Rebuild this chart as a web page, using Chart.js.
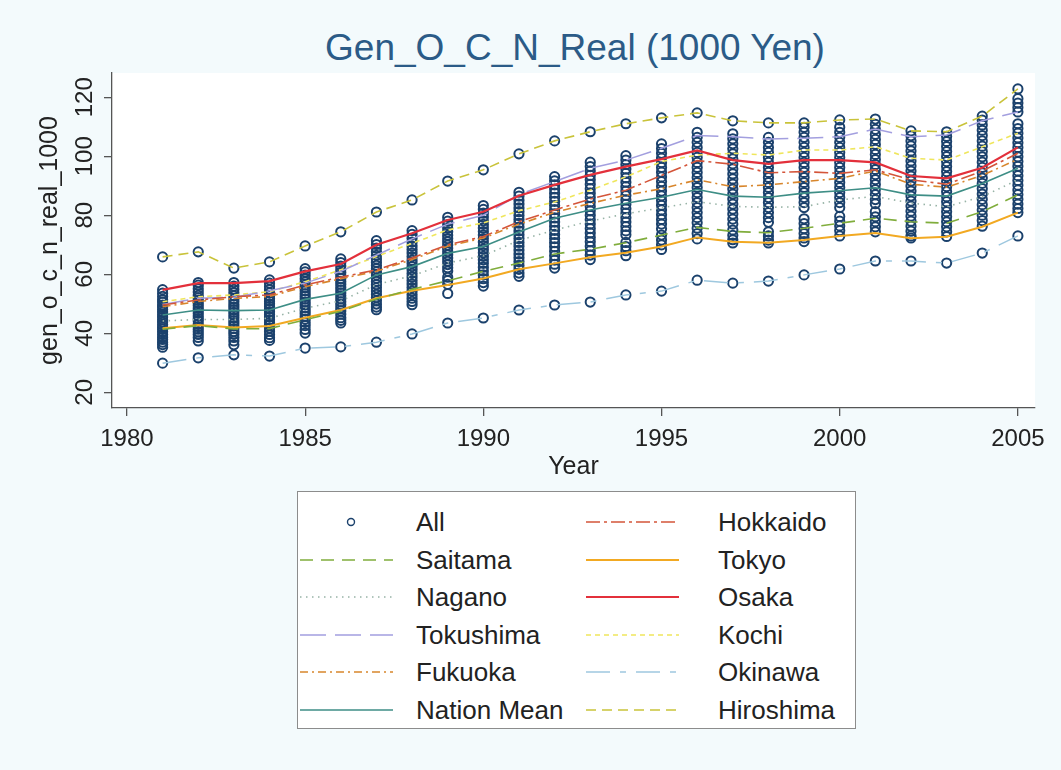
<!DOCTYPE html>
<html>
<head>
<meta charset="utf-8">
<script src="https://cdn.jsdelivr.net/npm/chart.js@4.4.1/dist/chart.umd.min.js"></script>
<style>
  html, body { margin: 0; padding: 0; background: #f3fafc; }
  body { width: 1061px; height: 770px; position: relative; overflow: hidden;
         font-family: "Liberation Sans", Arial, sans-serif; }
  canvas { position: absolute; left: 0; top: 0; }
  #title { position: absolute; left: 0; top: 28px; width: 1150px; text-align: center;
           font-size: 37px; line-height: 40px; color: #2b5b87; }
  #legend { position: absolute; left: 297px; top: 491px; width: 557px; height: 236px;
            background: #fff; border: 1px solid #8c8c8c; }
  .item { position: absolute; height: 30px; }
  .item svg { position: absolute; left: 0; top: 10px; }
  .item span { position: absolute; top: 0; font-size: 26px; line-height: 30px; color: #222; white-space: nowrap; }
</style>
</head>
<body>
<div id="title">Gen_O_C_N_Real (1000 Yen)</div>
<canvas id="chart" width="1061" height="770"></canvas>
<div id="legend"></div>
<script>
// ---- data ----
const years = [1981, 1982, 1983, 1984, 1985, 1986, 1987, 1988, 1989, 1990, 1991, 1992, 1993,
               1994, 1995, 1996, 1997, 1998, 1999, 2000, 2001, 2002, 2003, 2004, 2005];
const xTicks = [1980, 1985, 1990, 1995, 2000, 2005];
const yTicks = [20, 40, 60, 80, 100, 120];

const hokkaido  = [49.6, 51.3, 52.4, 53.0, 56.4, 59.0, 61.5, 65.5, 70.0, 72.8, 77.8, 81.8, 85.5, 88.5, 93.5, 98.5, 97.3, 94.4, 94.8, 94.2, 95.4, 92.0, 90.5, 95.0, 101.0];
const saitama   = [41.4, 42.6, 41.5, 41.6, 44.6, 47.5, 51.6, 54.9, 57.8, 61.0, 63.8, 66.9, 68.5, 70.7, 73.3, 75.9, 74.5, 74.1, 75.6, 77.3, 79.0, 77.8, 77.3, 81.2, 86.9];
const tokyo     = [41.7, 42.8, 42.0, 42.5, 45.3, 47.9, 51.9, 54.4, 56.4, 58.6, 61.7, 63.7, 65.8, 67.3, 69.4, 72.5, 71.0, 70.7, 71.6, 73.0, 74.0, 72.2, 72.7, 76.1, 80.9];
const nagano    = [44.2, 44.7, 44.7, 45.1, 48.5, 51.0, 56.5, 59.5, 63.8, 66.3, 71.5, 75.0, 78.0, 80.5, 82.5, 84.6, 83.0, 82.7, 82.9, 85.2, 86.4, 84.1, 82.9, 86.3, 92.0];
const osaka     = [54.7, 57.0, 57.0, 57.7, 61.0, 63.5, 70.0, 73.9, 78.4, 81.2, 86.6, 90.3, 93.7, 96.5, 99.0, 102.0, 98.7, 97.4, 98.7, 98.7, 97.9, 93.3, 92.5, 96.1, 103.0];
const tokushima = [49.8, 51.9, 52.2, 54.4, 57.0, 61.0, 66.5, 72.0, 77.0, 80.0, 87.0, 91.4, 95.9, 98.7, 102.7, 107.0, 106.6, 105.8, 106.1, 106.6, 109.2, 106.6, 107.2, 112.0, 115.0];
const kochi     = [50.7, 52.4, 53.0, 54.1, 57.5, 61.5, 66.0, 70.5, 75.0, 77.4, 81.5, 84.5, 88.5, 93.0, 98.2, 100.4, 101.0, 100.4, 102.1, 102.1, 103.2, 99.3, 98.7, 103.2, 107.8];
const fukuoka   = [49.0, 50.8, 51.8, 52.5, 55.8, 58.5, 61.0, 65.0, 69.5, 72.3, 77.0, 81.0, 84.0, 86.8, 89.0, 92.0, 89.7, 90.3, 91.4, 92.5, 95.0, 90.5, 89.5, 93.5, 99.0];
const okinawa   = [29.9, 31.7, 32.7, 32.3, 35.0, 35.4, 37.0, 39.8, 43.5, 45.2, 47.9, 49.6, 50.6, 53.0, 54.3, 58.0, 57.0, 57.7, 59.8, 61.8, 64.5, 64.5, 63.8, 67.2, 73.0];
const nationMean = [46.2, 47.9, 47.7, 47.9, 51.5, 53.6, 59.8, 62.6, 67.1, 69.4, 74.3, 79.0, 81.8, 84.1, 86.1, 88.7, 86.5, 86.1, 87.5, 88.3, 89.3, 86.9, 86.5, 90.8, 95.9];
const hiroshima = [65.9, 67.6, 62.1, 64.2, 69.6, 74.4, 81.1, 85.2, 91.6, 95.4, 100.8, 105.2, 108.3, 111.0, 113.0, 114.7, 112.0, 111.3, 111.3, 112.3, 112.6, 108.6, 108.3, 113.6, 122.8];

// every prefecture, one list per year (the "All" circles)
const allByYear = [
  [65.9, 54.8, 53.6, 52.5, 51.4, 50.6, 49.6, 48.9, 48.1, 47.2, 46.3, 45.5, 44.6, 43.8, 42.9, 42.1, 41.4, 40.5, 39.6, 38.7, 37.9, 37.0, 36.2, 35.3, 29.9],
  [67.6, 57.2, 56.3, 55.1, 54.0, 52.9, 52.0, 51.2, 50.3, 49.4, 48.5, 47.7, 46.8, 45.9, 45.0, 44.2, 43.1, 42.3, 41.4, 40.5, 39.6, 38.6, 37.4, 31.7],
  [62.1, 57.2, 56.0, 54.9, 53.8, 52.7, 51.7, 50.8, 49.8, 48.9, 48.0, 47.1, 46.2, 45.3, 44.3, 43.4, 42.5, 41.6, 40.6, 39.7, 38.6, 37.4, 36.1, 32.7],
  [64.2, 58.1, 57.0, 55.9, 54.8, 53.7, 52.7, 51.8, 50.9, 50.0, 49.1, 48.2, 47.3, 46.4, 45.5, 44.6, 43.7, 42.8, 41.8, 40.7, 39.6, 38.5, 37.6, 32.3],
  [69.6, 61.9, 60.8, 59.7, 58.5, 57.4, 56.4, 55.4, 54.4, 53.4, 52.5, 51.6, 50.6, 49.7, 48.7, 47.7, 46.8, 45.8, 44.8, 43.7, 42.6, 41.3, 40.1, 35.0],
  [74.4, 65.2, 64.0, 62.8, 61.7, 60.6, 59.6, 58.6, 57.6, 56.6, 55.6, 54.7, 53.7, 52.7, 51.7, 50.7, 49.7, 48.6, 47.6, 46.5, 45.3, 44.4, 43.5, 35.4],
  [81.1, 71.4, 70.1, 68.9, 67.6, 66.4, 65.2, 64.1, 63.0, 61.9, 60.8, 59.8, 58.7, 57.6, 56.5, 55.4, 54.3, 53.2, 52.1, 51.0, 49.9, 48.9, 48.0, 37.0],
  [85.2, 74.8, 73.5, 72.2, 70.9, 69.6, 68.4, 67.2, 66.0, 64.8, 63.7, 62.6, 61.5, 60.3, 59.1, 57.9, 56.7, 55.5, 54.3, 53.1, 51.9, 50.8, 49.7, 39.8],
  [91.6, 79.3, 78.0, 76.8, 75.6, 74.4, 73.2, 72.1, 71.0, 69.9, 68.8, 67.7, 66.6, 65.5, 64.4, 63.3, 62.2, 61.1, 59.0, 57.9, 56.6, 53.5, 43.5],
  [95.4, 83.3, 82.0, 80.7, 79.4, 78.1, 76.9, 75.7, 74.5, 73.3, 72.1, 70.9, 69.7, 68.5, 67.3, 66.1, 64.9, 63.7, 62.4, 61.1, 59.8, 58.5, 57.2, 56.0, 45.2],
  [100.8, 87.8, 86.5, 85.1, 83.8, 82.5, 81.2, 79.9, 78.6, 77.3, 76.0, 74.7, 73.4, 72.1, 70.8, 69.5, 68.2, 66.9, 65.6, 64.3, 63.0, 61.7, 60.4, 59.3, 47.9],
  [105.2, 93.1, 91.7, 90.3, 88.9, 87.5, 86.1, 84.7, 83.3, 81.9, 80.5, 79.1, 77.7, 76.3, 74.9, 73.5, 72.1, 70.7, 69.3, 67.8, 66.3, 64.8, 63.4, 62.1, 49.6],
  [108.3, 98.0, 96.5, 95.0, 93.5, 92.0, 90.5, 89.0, 87.5, 86.0, 84.5, 83.0, 81.5, 80.0, 78.5, 77.0, 75.5, 74.0, 72.5, 71.0, 69.5, 68.0, 66.5, 65.0, 50.6],
  [111.0, 100.2, 98.7, 97.2, 95.7, 94.2, 92.7, 91.2, 89.7, 88.2, 86.7, 85.2, 83.7, 82.2, 80.7, 79.2, 77.7, 76.2, 74.7, 73.4, 70.8, 69.4, 68.0, 66.3, 53.0],
  [113.0, 104.2, 102.6, 101.0, 99.4, 97.8, 96.2, 94.6, 93.0, 91.4, 89.8, 88.2, 86.6, 85.0, 83.4, 81.8, 80.2, 78.6, 77.0, 75.4, 73.3, 71.6, 70.0, 68.4, 54.3],
  [114.7, 108.1, 106.4, 104.7, 103.0, 101.3, 99.6, 97.9, 96.2, 94.5, 92.8, 91.1, 89.4, 87.7, 86.0, 84.3, 82.6, 80.9, 79.2, 77.5, 75.6, 73.8, 72.0, 58.0],
  [112.0, 107.6, 105.9, 104.2, 102.5, 100.8, 99.1, 97.4, 95.7, 94.0, 92.3, 90.6, 88.9, 87.2, 85.5, 83.8, 82.1, 80.4, 78.7, 77.0, 75.0, 73.2, 71.7, 70.6, 57.0],
  [111.3, 106.4, 104.7, 103.0, 101.3, 99.6, 97.9, 96.2, 94.5, 92.8, 91.1, 89.4, 87.7, 86.0, 84.3, 82.6, 80.9, 79.2, 77.6, 74.4, 73.0, 71.6, 70.6, 57.7],
  [111.3, 109.8, 108.1, 106.4, 104.7, 103.0, 101.3, 99.6, 97.9, 96.2, 94.5, 92.8, 91.1, 89.4, 87.7, 86.0, 84.3, 82.6, 78.8, 77.2, 75.5, 73.8, 72.3, 71.1, 59.8],
  [112.3, 109.8, 108.1, 106.4, 104.7, 103.0, 101.3, 99.6, 97.9, 96.2, 94.5, 92.8, 91.1, 89.4, 87.7, 86.0, 84.3, 82.6, 79.6, 78.0, 76.4, 74.8, 73.0, 61.8],
  [112.6, 110.8, 109.1, 107.4, 105.7, 104.0, 102.3, 100.6, 98.9, 97.2, 95.5, 93.8, 92.1, 90.4, 88.7, 87.0, 85.3, 83.9, 81.2, 79.5, 77.8, 76.1, 74.4, 64.5],
  [108.6, 106.9, 105.2, 103.5, 101.8, 100.1, 98.4, 96.7, 95.0, 93.3, 91.6, 89.9, 88.2, 86.5, 84.8, 83.1, 81.4, 79.7, 78.0, 76.3, 74.6, 73.0, 72.3, 64.5],
  [108.3, 106.7, 105.0, 103.3, 101.6, 99.9, 98.2, 96.5, 94.8, 93.1, 91.4, 89.7, 88.0, 86.3, 84.6, 82.9, 81.2, 79.5, 77.8, 76.1, 74.4, 72.8, 63.8],
  [113.6, 112.2, 110.6, 108.8, 107.0, 105.2, 103.4, 101.6, 99.8, 98.0, 96.2, 94.4, 92.6, 90.8, 89.0, 87.2, 85.4, 83.6, 81.8, 80.0, 78.2, 76.3, 67.2],
  [122.8, 119.5, 118.0, 116.5, 115.0, 111.0, 109.4, 107.8, 106.2, 104.6, 103.0, 101.4, 99.8, 98.2, 96.6, 95.0, 93.4, 91.8, 90.2, 88.6, 87.0, 85.4, 83.8, 82.3, 80.9, 73.0]
];

// ---- styles (legend order, row by row) ----
const FONT = '"Liberation Sans", Arial, sans-serif';
const NAVY = '#1b416c';

const lineSeries = [
  { label: 'Hokkaido',    data: hokkaido,   color: '#d4553a', dash: [14, 4, 3, 4], width: 1.6 },
  { label: 'Saitama',     data: saitama,    color: '#80ad3c', dash: [13, 8],       width: 1.6 },
  { label: 'Tokyo',       data: tokyo,      color: '#f2a922', dash: [],            width: 2 },
  { label: 'Nagano',      data: nagano,     color: '#97b3a6', dash: [1.5, 4.5],    width: 1.6 },
  { label: 'Osaka',       data: osaka,      color: '#e3303b', dash: [],            width: 2.2 },
  { label: 'Tokushima',   data: tokushima,  color: '#a39fdf', dash: [26, 9],       width: 1.5 },
  { label: 'Kochi',       data: kochi,      color: '#efe65c', dash: [5, 4],        width: 1.6 },
  { label: 'Fukuoka',     data: fukuoka,    color: '#d8862c', dash: [8, 4, 2, 4],  width: 1.6 },
  { label: 'Okinawa',     data: okinawa,    color: '#9ec8df', dash: [24, 10, 6, 10], width: 1.5 },
  { label: 'Nation Mean', data: nationMean, color: '#3e8e86', dash: [],            width: 1.6 },
  { label: 'Hiroshima',   data: hiroshima,  color: '#c9c33a', dash: [10, 6],       width: 1.6 }
];

const allPoints = [];
allByYear.forEach((vals, i) => vals.forEach(v => allPoints.push({ x: years[i], y: v })));

const datasets = [{
  label: 'All',
  data: allPoints,
  showLine: false,
  pointStyle: 'circle',
  pointRadius: 4.6,
  pointBorderWidth: 2,
  pointBorderColor: NAVY,
  pointBackgroundColor: 'rgba(255,255,255,0)',
  order: 20
}];
lineSeries.forEach((s, k) => {
  datasets.push({
    label: s.label,
    data: years.map((y, i) => ({ x: y, y: s.data[i] })),
    showLine: true,
    pointRadius: 0,
    borderColor: s.color,
    borderWidth: s.width,
    borderDash: s.dash,
    fill: false,
    tension: 0,
    order: s.label === 'Osaka' ? 0 : 1 + k
  });
});

// white plot region
const plotBg = {
  id: 'plotBg',
  beforeDraw(chart) {
    const { ctx, chartArea: a } = chart;
    ctx.save();
    ctx.fillStyle = '#ffffff';
    ctx.fillRect(a.left, a.top, a.right - a.left, a.bottom - a.top);
    ctx.restore();
  }
};

new Chart(document.getElementById('chart'), {
  type: 'scatter',
  data: { datasets },
  plugins: [plotBg],
  options: {
    responsive: false,
    animation: false,
    devicePixelRatio: 1,
    layout: { padding: { left: 0, top: 73, right: 26, bottom: 288 } },
    plugins: { legend: { display: false }, tooltip: { enabled: false }, title: { display: false } },
    scales: {
      x: {
        type: 'linear',
        min: 1979.58,
        max: 2005.48,
        afterBuildTicks: a => { a.ticks = xTicks.map(v => ({ value: v })); },
        afterFit: a => { a.height = 74; },
        border: { display: true, color: '#555', width: 1.3 },
        grid: { drawOnChartArea: false, drawTicks: true, tickLength: 8, color: '#555', lineWidth: 1.3 },
        ticks: { autoSkip: false, maxRotation: 0, padding: 9, color: '#222',
                 font: { family: FONT, size: 24 }, callback: v => String(v) },
        title: { display: true, text: 'Year', color: '#222', padding: { top: 0, bottom: 0 },
                 font: { family: FONT, size: 25 } }
      },
      y: {
        min: 14.7,
        max: 128.2,
        afterBuildTicks: a => { a.ticks = yTicks.map(v => ({ value: v })); },
        afterFit: a => { a.width = 112; },
        border: { display: true, color: '#555', width: 1.3 },
        grid: { drawOnChartArea: false, drawTicks: true, tickLength: 8, color: '#555', lineWidth: 1.3 },
        ticks: { autoSkip: false, minRotation: 90, maxRotation: 90, crossAlign: 'center', padding: -1,
                 color: '#222', font: { family: FONT, size: 24 } },
        title: { display: true, text: 'gen_o_c_n_real_1000', color: '#222', padding: { top: 35, bottom: 0 },
                 font: { family: FONT, size: 25 } }
      }
    }
  }
});

// ---- legend box, two columns ----
const legend = document.getElementById('legend');
const legendItems = [{ label: 'All', marker: true }].concat(lineSeries);
legendItems.forEach((s, i) => {
  const row = Math.floor(i / 2), col = i % 2;
  const div = document.createElement('div');
  div.className = 'item';
  div.style.top = (15 + row * 37.5) + 'px';
  div.style.left = (col === 0 ? 2 : 288) + 'px';
  const sample = s.marker
    ? `<circle cx="51" cy="5" r="3.5" fill="none" stroke="${NAVY}" stroke-width="1.4"/>`
    : `<line x1="0" y1="5" x2="93" y2="5" stroke="${s.color}" stroke-width="${s.width}"
         stroke-dasharray="${s.dash.length ? s.dash.join(' ') : 'none'}"/>`;
  div.innerHTML = `<svg width="93" height="10">${sample}</svg><span style="left:${col === 0 ? 116 : 132}px">${s.label}</span>`;
  legend.appendChild(div);
});
</script>
</body>
</html>
